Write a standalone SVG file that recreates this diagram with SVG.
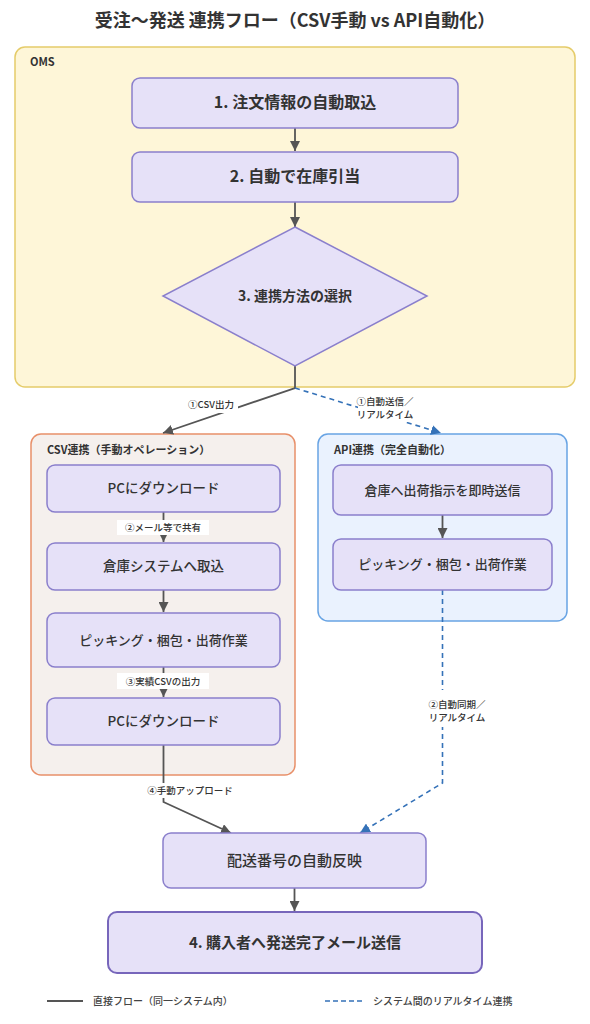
<svg xmlns="http://www.w3.org/2000/svg" width="590" height="1024" viewBox="0 0 590 1024">
<style>
text{font-family:"Noto Sans CJK JP","Noto Sans",sans-serif;fill:#333;}
.title{font-size:18px;font-weight:bold;text-anchor:middle;}
.clabel{font-size:11px;font-weight:bold;}
.node{fill:#e6e1f8;stroke:#8a7fcc;stroke-width:1.5;}
.nb{font-size:15px;font-weight:bold;text-anchor:middle;}
.nt{font-size:13px;font-weight:500;text-anchor:middle;}
.el{font-size:9.5px;font-weight:500;text-anchor:middle;fill:#333;}
.solid{fill:none;stroke:#555;stroke-width:1.8;}
.dash{fill:none;stroke:#3572b8;stroke-width:1.6;stroke-dasharray:5,4;}
.lbg{fill:#fff;}
.leg{font-size:10px;font-weight:500;fill:#444;}
</style>
<defs>
<marker id="ag" markerUnits="userSpaceOnUse" markerWidth="10" markerHeight="10" refX="10" refY="5" orient="auto"><path d="M0,0 L10,5 L0,10 z" fill="#555"/></marker>
<marker id="ab" markerUnits="userSpaceOnUse" markerWidth="10" markerHeight="10" refX="10" refY="5" orient="auto"><path d="M0,0 L10,5 L0,10 z" fill="#3572b8"/></marker>
</defs>
<rect width="590" height="1024" fill="#fff"/>
<text class="title" x="295" y="27">受注〜発送 連携フロー（CSV手動 vs API自動化）</text>

<g id="oms">
<rect x="15" y="47" width="560" height="340" rx="10" fill="#fef6d8" stroke="#e5cc6a" stroke-width="1.5"/>
<text class="clabel" x="30" y="66">OMS</text>
</g>
<g id="csv">
<rect x="31" y="434" width="264" height="341" rx="10" fill="#f5f0ed" stroke="#e8906a" stroke-width="1.5"/>
<text class="clabel" x="47" y="454">CSV連携（手動オペレーション）</text>
</g>
<g id="api">
<rect x="318" y="434" width="249" height="187" rx="10" fill="#eaf2fe" stroke="#68a4e4" stroke-width="1.5"/>
<text class="clabel" x="334" y="454">API連携（完全自動化）</text>
</g>

<g id="connectors">
<line class="solid" x1="295" y1="128" x2="295" y2="151" marker-end="url(#ag)"/>
<line class="solid" x1="295" y1="202" x2="295" y2="227" marker-end="url(#ag)"/>
<polyline class="solid" points="295,366 295,388 163,433" marker-end="url(#ag)"/>
<line class="dash" x1="295" y1="388" x2="441" y2="433" marker-end="url(#ab)"/>
<rect class="lbg" x="184" y="397" width="54" height="16"/>
<text class="el" x="211" y="408">①CSV出力</text>
<rect class="lbg" x="358" y="393" width="56" height="29"/>
<text class="el" x="385" y="405">①自動送信／</text>
<text class="el" x="385" y="418">リアルタイム</text>
<line class="solid" x1="163.5" y1="512" x2="163.5" y2="542" marker-end="url(#ag)"/>
<rect class="lbg" x="117" y="520" width="92" height="15"/>
<text class="el" x="163" y="531">②メール等で共有</text>
<line class="solid" x1="163.5" y1="590" x2="163.5" y2="612" marker-end="url(#ag)"/>
<line class="solid" x1="163.5" y1="667" x2="163.5" y2="697" marker-end="url(#ag)"/>
<rect class="lbg" x="117" y="673" width="92" height="16"/>
<text class="el" x="163" y="685">③実績CSVの出力</text>
<polyline class="solid" points="163.5,745 163.5,802 231,833" marker-end="url(#ag)"/>
<rect class="lbg" x="145" y="783" width="90" height="15"/>
<text class="el" x="190" y="794">④手動アップロード</text>
<line class="solid" x1="442.5" y1="515" x2="442.5" y2="538" marker-end="url(#ag)"/>
<polyline class="dash" points="442.5,590 442.5,783 360,833" marker-end="url(#ab)"/>
<rect class="lbg" x="427" y="690" width="62" height="37"/>
<text class="el" x="457" y="708">②自動同期／</text>
<text class="el" x="457" y="721">リアルタイム</text>
<line class="solid" x1="294.5" y1="888" x2="294.5" y2="911" marker-end="url(#ag)"/>
</g>

<g id="n1"><rect class="node" x="132" y="78" width="326" height="50" rx="8"/><text class="nb" x="295" y="108" style="font-size:16px">1. 注文情報の自動取込</text></g>
<g id="n2"><rect class="node" x="132" y="152" width="326" height="50" rx="8"/><text class="nb" x="295" y="182" style="font-size:16px">2. 自動で在庫引当</text></g>
<g id="n3"><polygon class="node" points="295,227 427,296 295,366 163,296"/><text class="nb" x="295" y="301" style="font-size:14px">3. 連携方法の選択</text></g>
<g id="c1"><rect class="node" x="47" y="465" width="233" height="47" rx="8"/><text class="nt" x="163.5" y="493" style="font-size:13.5px">PCにダウンロード</text></g>
<g id="c2"><rect class="node" x="47" y="543" width="233" height="47" rx="8"/><text class="nt" x="163.5" y="571" style="font-size:13.5px">倉庫システムへ取込</text></g>
<g id="c3"><rect class="node" x="47" y="613" width="233" height="54" rx="8"/><text class="nt" x="163.5" y="645">ピッキング・梱包・出荷作業</text></g>
<g id="c4"><rect class="node" x="47" y="698" width="233" height="47" rx="8"/><text class="nt" x="163.5" y="726" style="font-size:13.5px">PCにダウンロード</text></g>
<g id="a1"><rect class="node" x="333" y="465" width="219" height="50" rx="8"/><text class="nt" x="442.5" y="495">倉庫へ出荷指示を即時送信</text></g>
<g id="a2"><rect class="node" x="333" y="539" width="219" height="51" rx="8"/><text class="nt" x="442.5" y="569">ピッキング・梱包・出荷作業</text></g>
<g id="e1"><rect class="node" x="163" y="833" width="263" height="55" rx="8"/><text class="nt" x="294.5" y="866" style="font-size:15px">配送番号の自動反映</text></g>
<g id="h1"><rect class="node" x="108" y="912" width="374" height="61" rx="9" style="stroke:#7766bb;stroke-width:2"/><text class="nb" x="295" y="948">4. 購入者へ発送完了メール送信</text></g>

<g id="legend">
<line x1="47" y1="1001" x2="83" y2="1001" stroke="#555" stroke-width="1.8"/>
<text class="leg" x="93" y="1004.5">直接フロー（同一システム内）</text>
<line x1="325" y1="1001" x2="362" y2="1001" stroke="#3572b8" stroke-width="1.6" stroke-dasharray="5,3"/>
<text class="leg" x="373" y="1004.5">システム間のリアルタイム連携</text>
</g>
</svg>
